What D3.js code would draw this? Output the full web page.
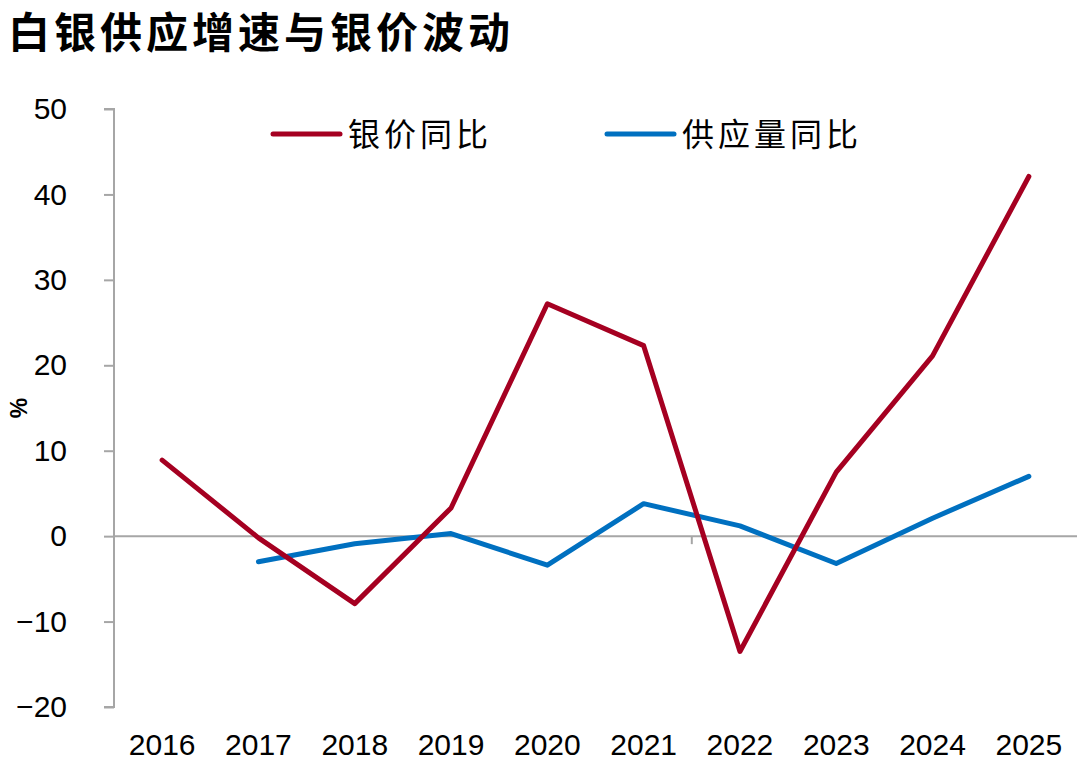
<!DOCTYPE html>
<html>
<head>
<meta charset="utf-8">
<script src="https://cdn.jsdelivr.net/npm/d3@7"></script>
<style>
  body { margin: 0; background: #fff; }
  svg { display: block; }
</style>
</head>
<body>
<div class="chart"></div>
<script>
var years = ["2016", "2017", "2018", "2019", "2020", "2021", "2022", "2023", "2024", "2025"];
var priceYoy = [8.9, -0.2, -7.9, 3.3, 27.2, 22.3, -13.5, 7.5, 21.1, 42.1];
var supplyYoy = [null, -3.0, -0.9, 0.3, -3.4, 3.8, 1.2, -3.2, 2.1, 7.0];
var yTicks = [-20, -10, 0, 10, 20, 30, 40, 50];
var seriesNames = ["银价同比", "供应量同比"];

var width = 1080,
    height = 760,
    red = "#A50021",
    blue = "#0070C0",
    axisGrey = "#a6a6a6";

var svg = d3.select(".chart").append("svg")
    .attr("width", width)
    .attr("height", height);

// title
svg.append("text")
    .attr("x", 8)
    .attr("y", 48)
    .style("font-family", "'Noto Sans CJK SC'")
    .style("font-size", "42px")
    .style("font-weight", "bold")
    .style("letter-spacing", "4px")
    .text("白银供应增速与银价波动");

var x = d3.scaleBand().domain(years).range([114, 1077]);
var y = d3.scaleLinear().domain([-20, 50]).range([707, 109]);

function cx(d) { return x(d) + x.bandwidth() / 2; }

// y axis
var yAxis = svg.append("g")
    .attr("transform", "translate(114,0)")
    .call(d3.axisLeft(y).tickValues(yTicks).tickSize(10).tickPadding(37)
        .tickFormat(function (d) { return d < 0 ? "\u2212" + Math.abs(d) : d; }));
yAxis.select(".domain").attr("stroke", axisGrey).attr("stroke-width", 2)
    .attr("d", "M-10," + y(50) + "H0V" + y(-20) + "H-10");
yAxis.selectAll(".tick line").attr("stroke", axisGrey).attr("stroke-width", 2);
yAxis.selectAll(".tick text")
    .style("font-family", "'Liberation Sans', Arial, sans-serif")
    .style("font-size", "30px")
    .attr("fill", "#000");

// zero line
svg.append("line")
    .attr("x1", 114).attr("x2", 1077)
    .attr("y1", y(0)).attr("y2", y(0))
    .attr("stroke", axisGrey).attr("stroke-width", 2);

// the one category tick visible on the zero line
svg.append("line")
    .attr("x1", x("2022")).attr("x2", x("2022"))
    .attr("y1", y(0)).attr("y2", y(0) + 8)
    .attr("stroke", axisGrey).attr("stroke-width", 2);

// x labels
svg.append("g").selectAll("text").data(years)
  .enter().append("text")
    .attr("x", cx)
    .attr("y", 755)
    .attr("text-anchor", "middle")
    .style("font-family", "'Liberation Sans', Arial, sans-serif")
    .style("font-size", "30px")
    .text(function (d) { return d; });

// y title
svg.append("text")
    .attr("transform", "translate(27,408) rotate(-90)")
    .attr("text-anchor", "middle")
    .style("font-family", "'Liberation Sans', Arial, sans-serif")
    .style("font-size", "23px")
    .style("font-weight", "bold")
    .text("%");

var line = d3.line()
    .defined(function (d) { return d.v !== null; })
    .x(function (d) { return cx(d.year); })
    .y(function (d) { return y(d.v); });

function toPoints(vals) {
    return years.map(function (yr, i) { return { year: yr, v: vals[i] }; });
}

svg.append("path")
    .datum(toPoints(supplyYoy))
    .attr("fill", "none")
    .attr("stroke", blue)
    .attr("stroke-width", 5)
    .attr("stroke-linecap", "round")
    .attr("stroke-linejoin", "round")
    .attr("d", line);

svg.append("path")
    .datum(toPoints(priceYoy))
    .attr("fill", "none")
    .attr("stroke", red)
    .attr("stroke-width", 5)
    .attr("stroke-linecap", "round")
    .attr("stroke-linejoin", "round")
    .attr("d", line);

// legend
var legendX = [273, 607],
    legendColors = [red, blue];
var legend = svg.append("g").selectAll("g").data(seriesNames)
  .enter().append("g")
    .attr("transform", function (d, i) { return "translate(" + legendX[i] + ",134)"; });
legend.append("line")
    .attr("x1", 0).attr("x2", 67)
    .attr("stroke", function (d, i) { return legendColors[i]; })
    .attr("stroke-width", 5)
    .attr("stroke-linecap", "round");
legend.append("text")
    .attr("x", 75)
    .attr("y", 12)
    .style("font-family", "'Noto Sans CJK SC'")
    .style("font-size", "32px")
    .style("letter-spacing", "4px")
    .text(function (d) { return d; });
</script>
</body>
</html>
